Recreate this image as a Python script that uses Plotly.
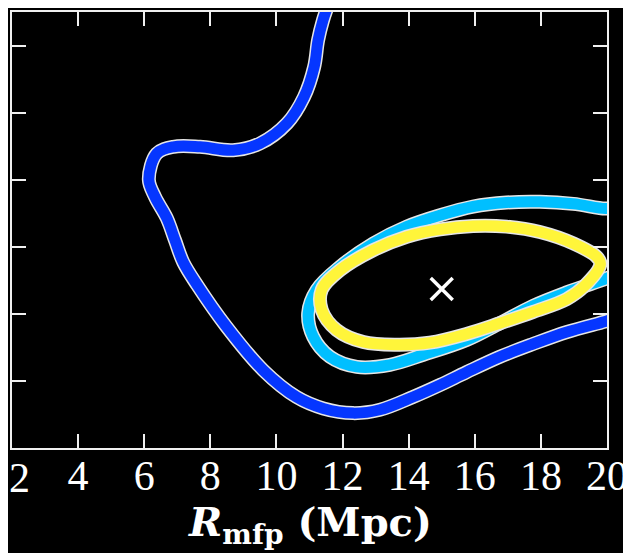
import plotly.graph_objects as go

# Contour paths (x in Mpc, y in axis units, ticks at 1..6)
dark_x = [11.56, 11.41, 11.26, 11.14, 10.83, 10.32, 9.50, 8.69, 7.69, 6.88, 6.38, 6.14, 6.33,
          6.68, 6.93, 7.18, 7.60, 8.47, 9.60, 10.61, 11.42, 12.32, 13.13, 14.13, 14.95, 15.75,
          16.76, 17.76, 18.79, 19.97, 20.15]
dark_y = [6.60, 6.38, 6.08, 5.68, 5.23, 4.84, 4.54, 4.44, 4.49, 4.49, 4.39, 4.00, 3.74,
          3.43, 3.10, 2.77, 2.43, 1.82, 1.16, 0.76, 0.59, 0.52, 0.57, 0.76, 0.94, 1.13,
          1.36, 1.55, 1.73, 1.89, 1.92]

light_x = [20.15, 19.94, 18.98, 17.97, 16.96, 15.95, 14.95, 13.94, 12.93, 11.92, 11.22, 10.96,
           11.11, 11.62, 12.43, 13.43, 14.44, 15.75, 16.76, 17.77, 18.78, 19.94, 20.15]
light_y = [3.58, 3.57, 3.64, 3.67, 3.66, 3.60, 3.47, 3.30, 3.05, 2.70, 2.36, 2.01,
           1.66, 1.36, 1.21, 1.24, 1.39, 1.61, 1.86, 2.12, 2.32, 2.52, 2.56]

yellow_x = [19.80, 19.69, 18.98, 17.97, 16.96, 15.95, 14.95, 13.94, 12.93, 11.92, 11.37, 11.37,
            11.82, 12.63, 13.64, 14.64, 15.75, 16.76, 17.77, 18.78, 19.33, 19.80]
yellow_y = [2.74, 2.85, 3.05, 3.22, 3.30, 3.31, 3.26, 3.15, 2.95, 2.65, 2.36, 2.06,
            1.76, 1.58, 1.54, 1.57, 1.70, 1.86, 2.03, 2.22, 2.42, 2.74]

best_x = [15.0]
best_y = [2.37]

x_ticks = [4, 6, 8, 10, 12, 14, 16, 18, 20]
x_tick_labels = ["4", "6", "8", "10", "12", "14", "16", "18", "20"]
x_edge_tick = [2]
x_edge_label = ["2"]
y_ticks = [1, 2, 3, 4, 5, 6]

contours = [
    (dark_x, dark_y, "#0536ff"),
    (light_x, light_y, "#00bfff"),
    (yellow_x, yellow_y, "#fff53a"),
]

fig = go.Figure()
for xs, ys, col in contours:
    fig.add_trace(go.Scatter(x=xs, y=ys, mode="lines",
                             line=dict(color="#e6e6e6", width=14, shape="spline", smoothing=1.0),
                             hoverinfo="skip", showlegend=False))
    fig.add_trace(go.Scatter(x=xs, y=ys, mode="lines",
                             line=dict(color=col, width=11, shape="spline", smoothing=1.0),
                             showlegend=False))

fig.add_trace(go.Scatter(x=best_x, y=best_y, mode="markers",
                         marker=dict(symbol="x-thin", size=22, color="white",
                                     line=dict(color="white", width=3.5)),
                         showlegend=False))

serif = "Liberation Serif, Times New Roman, serif"
title_font = "DejaVu Serif, serif"

annotations = [dict(text="<b><i>R</i><sub>mfp</sub> (Mpc)</b>",
                    xref="paper", yref="paper", x=0.5, y=-0.176,
                    xanchor="center", yanchor="middle", showarrow=False,
                    font=dict(size=40, family=title_font, color="white"))]
# edge tick label at x = 2, nudged so it stays inside the page
for v, t in zip(x_edge_tick, x_edge_label):
    annotations.append(dict(text=t, xref="x", yref="paper", x=v, y=-0.068,
                            xanchor="center", yanchor="middle", xshift=7, showarrow=False,
                            font=dict(size=42, family=serif, color="white")))

fig.update_layout(
    width=623, height=545,
    margin=dict(l=4, r=24, t=4, b=105, autoexpand=False),
    paper_bgcolor="black", plot_bgcolor="black",
    font=dict(family=serif, color="white"),
    xaxis=dict(range=[2, 20], tickvals=[2] + x_ticks, ticktext=[""] + x_tick_labels,
               automargin=False, ticklabelstandoff=-10, ticklabeloverflow="allow",
               showgrid=False, zeroline=False,
               showline=True, linecolor="#f0f0f0", linewidth=2, mirror="ticks",
               ticks="inside", ticklen=14, tickwidth=2, tickcolor="#f0f0f0",
               tickfont=dict(size=42, family=serif, color="white")),
    yaxis=dict(range=[0, 6.5], tickvals=y_ticks, showticklabels=False, automargin=False,
               showgrid=False, zeroline=False,
               showline=True, linecolor="#f0f0f0", linewidth=2, mirror="ticks",
               ticks="inside", ticklen=14, tickwidth=2, tickcolor="#f0f0f0"),
    annotations=annotations,
)

fig.write_html("out.html")
